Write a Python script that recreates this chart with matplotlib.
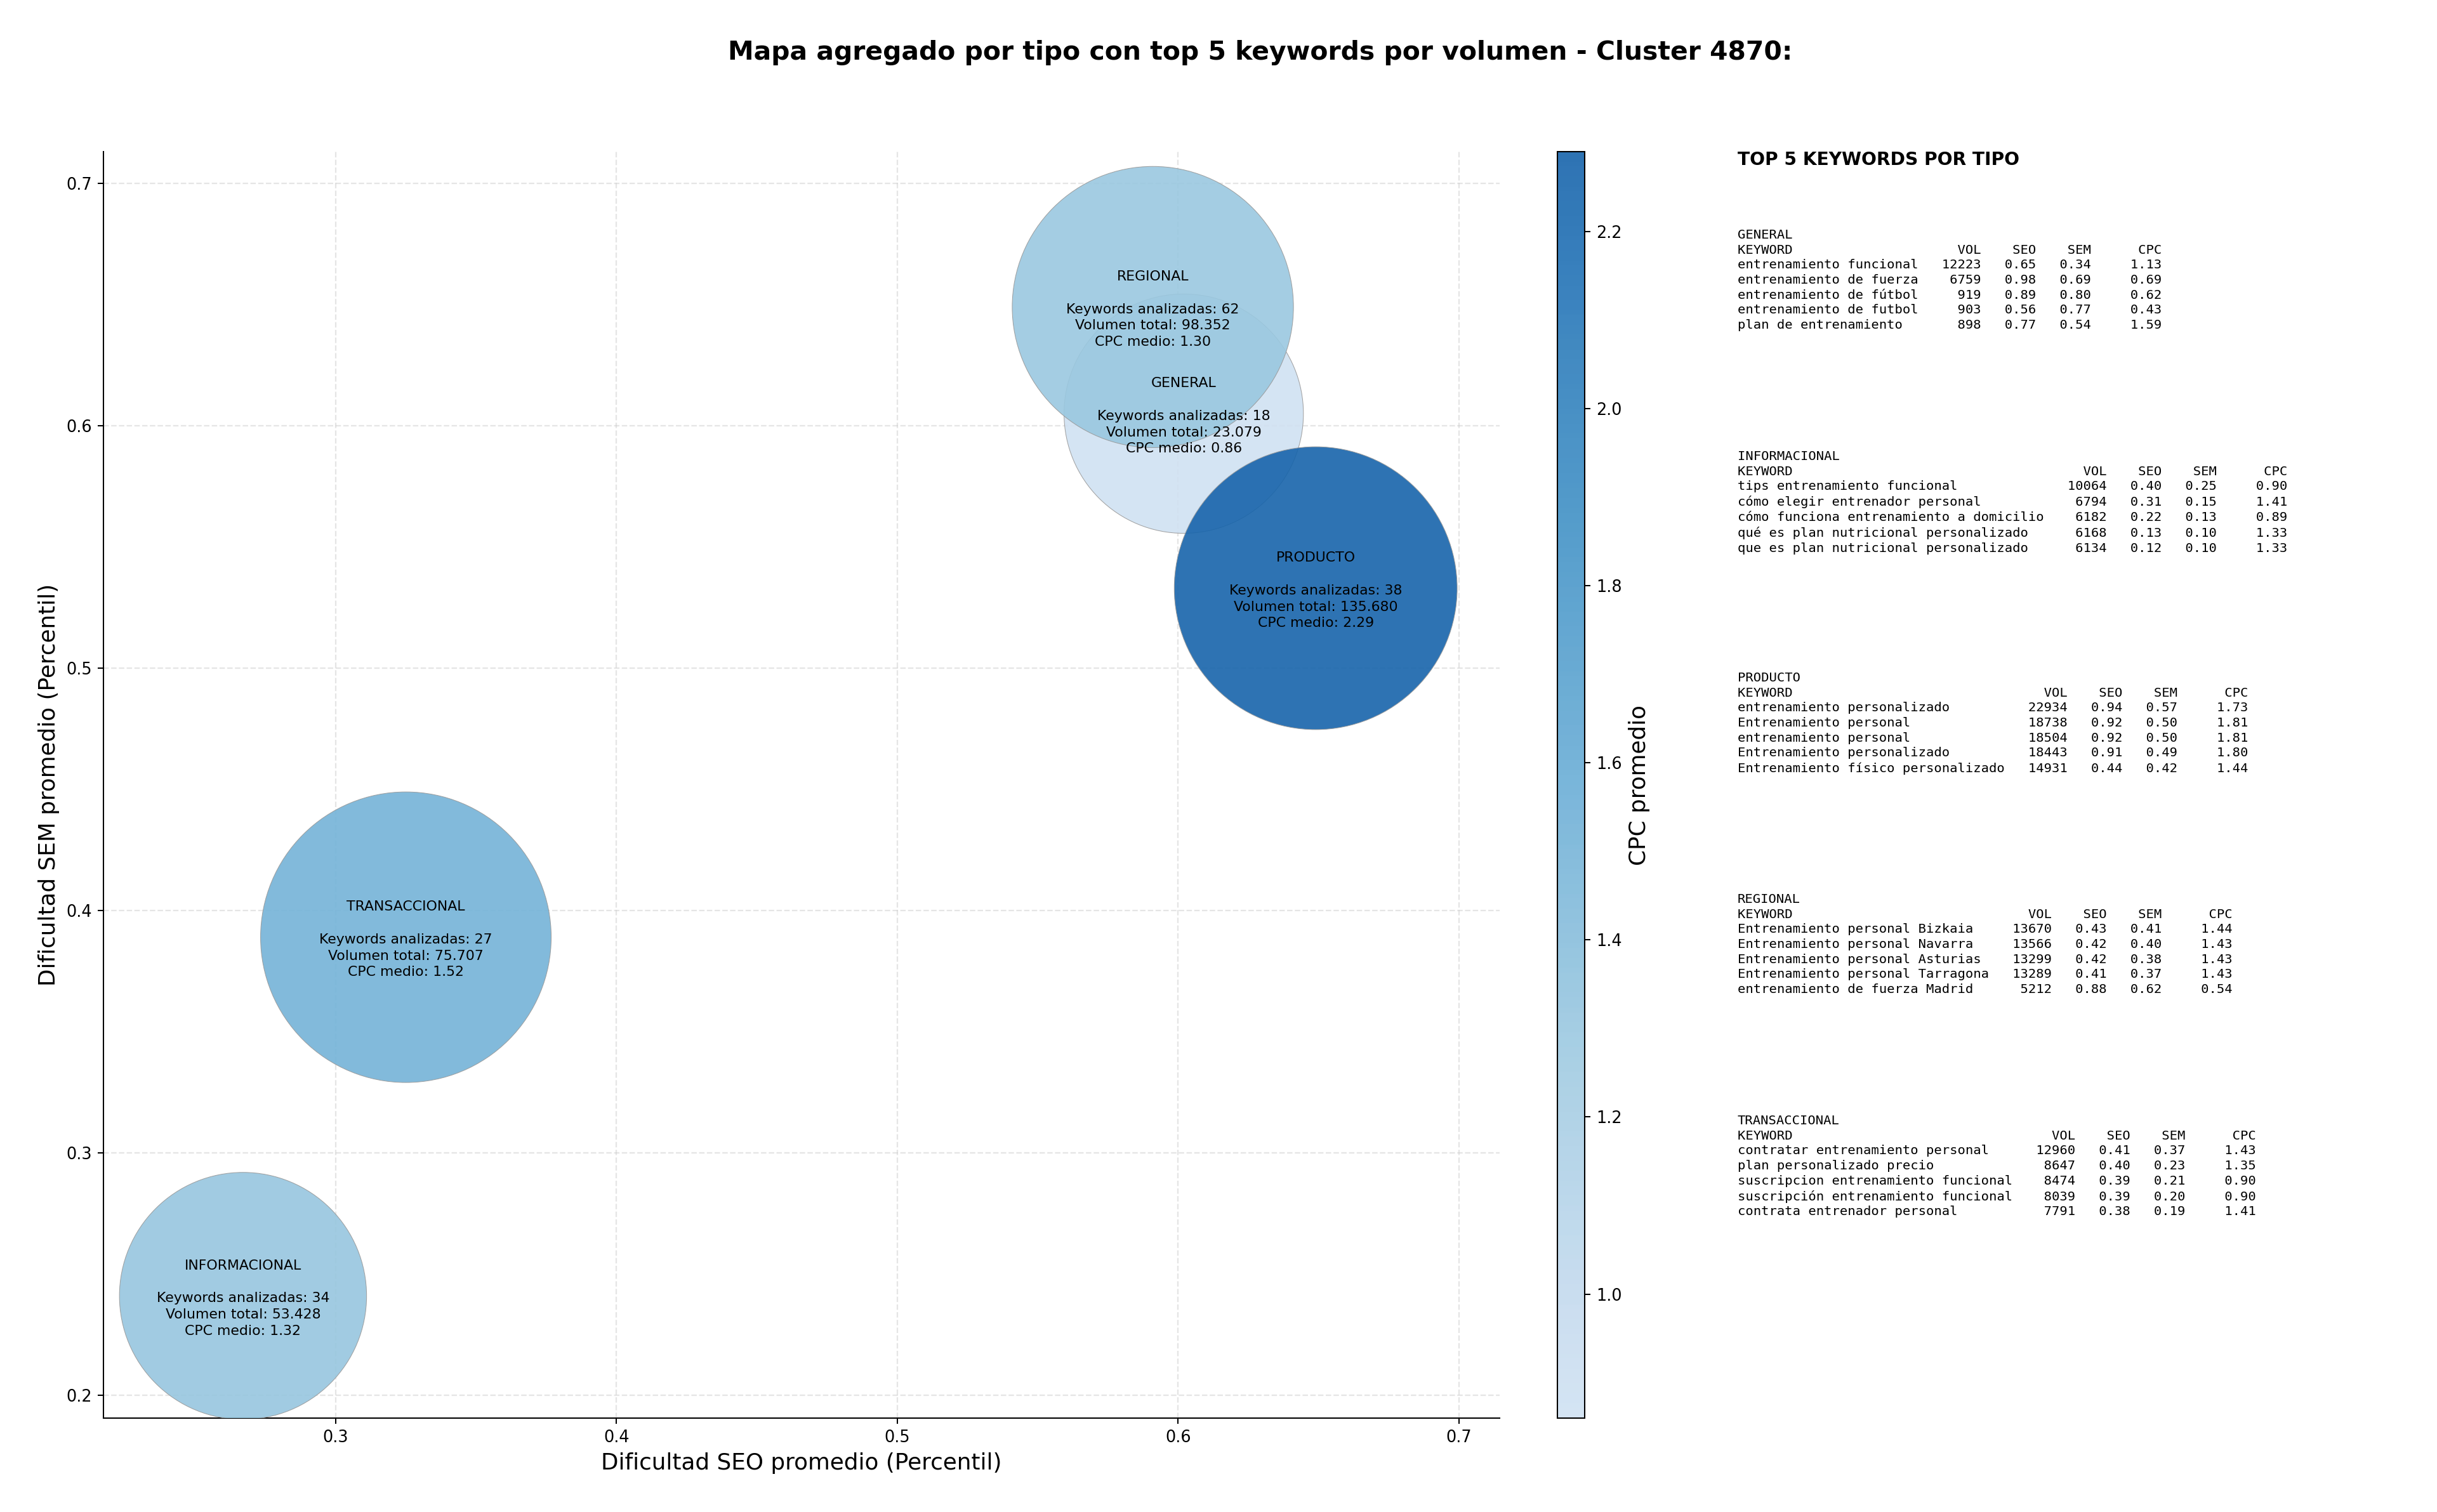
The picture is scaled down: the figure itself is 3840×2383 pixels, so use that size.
import numpy as np
import matplotlib
matplotlib.use("Agg")
import matplotlib.pyplot as plt
from matplotlib.colors import LinearSegmentedColormap, Normalize

# ---------------- data ----------------
tipos = ["GENERAL", "INFORMACIONAL", "PRODUCTO", "REGIONAL", "TRANSACCIONAL"]
seo_medio = [0.602, 0.267, 0.649, 0.591, 0.325]
sem_medio = [0.605, 0.241, 0.533, 0.649, 0.389]
n_keywords = [18, 34, 38, 62, 27]
volumen_total = [23079, 53428, 135680, 98352, 75707]
cpc_medio = [0.86, 1.32, 2.29, 1.30, 1.52]
bubble_size = [21780, 23220, 30420, 30070, 32110]

top_keywords = {
    "GENERAL": ["entrenamiento funcional", "entrenamiento de fuerza", "entrenamiento de fútbol",
                "entrenamiento de futbol", "plan de entrenamiento"],
    "INFORMACIONAL": ["tips entrenamiento funcional", "cómo elegir entrenador personal",
                      "cómo funciona entrenamiento a domicilio", "qué es plan nutricional personalizado",
                      "que es plan nutricional personalizado"],
    "PRODUCTO": ["entrenamiento personalizado", "Entrenamiento personal", "entrenamiento personal",
                 "Entrenamiento personalizado", "Entrenamiento físico personalizado"],
    "REGIONAL": ["Entrenamiento personal Bizkaia", "Entrenamiento personal Navarra",
                 "Entrenamiento personal Asturias", "Entrenamiento personal Tarragona",
                 "entrenamiento de fuerza Madrid"],
    "TRANSACCIONAL": ["contratar entrenamiento personal", "plan personalizado precio",
                      "suscripcion entrenamiento funcional", "suscripción entrenamiento funcional",
                      "contrata entrenador personal"],
}
top_vol = {
    "GENERAL": [12223, 6759, 919, 903, 898],
    "INFORMACIONAL": [10064, 6794, 6182, 6168, 6134],
    "PRODUCTO": [22934, 18738, 18504, 18443, 14931],
    "REGIONAL": [13670, 13566, 13299, 13289, 5212],
    "TRANSACCIONAL": [12960, 8647, 8474, 8039, 7791],
}
top_seo = {
    "GENERAL": [0.65, 0.98, 0.89, 0.56, 0.77],
    "INFORMACIONAL": [0.40, 0.31, 0.22, 0.13, 0.12],
    "PRODUCTO": [0.94, 0.92, 0.92, 0.91, 0.44],
    "REGIONAL": [0.43, 0.42, 0.42, 0.41, 0.88],
    "TRANSACCIONAL": [0.41, 0.40, 0.39, 0.39, 0.38],
}
top_sem = {
    "GENERAL": [0.34, 0.69, 0.80, 0.77, 0.54],
    "INFORMACIONAL": [0.25, 0.15, 0.13, 0.10, 0.10],
    "PRODUCTO": [0.57, 0.50, 0.50, 0.49, 0.42],
    "REGIONAL": [0.41, 0.40, 0.38, 0.37, 0.62],
    "TRANSACCIONAL": [0.37, 0.23, 0.21, 0.20, 0.19],
}
top_cpc = {
    "GENERAL": [1.13, 0.69, 0.62, 0.43, 1.59],
    "INFORMACIONAL": [0.90, 1.41, 0.89, 1.33, 1.33],
    "PRODUCTO": [1.73, 1.81, 1.81, 1.80, 1.44],
    "REGIONAL": [1.44, 1.43, 1.43, 1.43, 0.54],
    "TRANSACCIONAL": [1.43, 1.35, 0.90, 0.90, 1.41],
}

title = "Mapa agregado por tipo con top 5 keywords por volumen - Cluster 4870:"

# ---------------- figure ----------------
W, H = 3840, 2383
DPI = 184
fig = plt.figure(figsize=(W / DPI, H / DPI), dpi=DPI)
plt.rcParams["font.family"] = ["DejaVu Sans"]

ax = fig.add_axes([163 / W, 1 - 2235 / H, 2200 / W, 1996 / H])
cax = fig.add_axes([2454 / W, 1 - 2235 / H, 43 / W, 1996 / H])

cmap = LinearSegmentedColormap.from_list("blues_trunc", plt.cm.Blues(np.linspace(0.2, 0.8, 256)))
norm = Normalize(vmin=min(cpc_medio), vmax=max(cpc_medio))

sc = ax.scatter(seo_medio, sem_medio, s=bubble_size, c=cpc_medio, cmap=cmap, norm=norm,
                alpha=0.9, edgecolors="#999999", linewidths=0.4, zorder=3)

for t, x, y, n, v, c in zip(tipos, seo_medio, sem_medio, n_keywords, volumen_total, cpc_medio):
    vtxt = f"{v:,}".replace(",", ".")
    ax.annotate(f"{t}\n\nKeywords analizadas: {n}\nVolumen total: {vtxt}\nCPC medio: {c:.2f}",
                xy=(x, y), xytext=(0, -1.5), textcoords="offset points",
                ha="center", va="center", fontsize=8.6, linespacing=1.36, zorder=5)

ax.set_xlim(0.2173, 0.7145)
ax.set_ylim(0.1906, 0.7131)
ax.set_xticks([0.3, 0.4, 0.5, 0.6, 0.7])
ax.set_yticks([0.2, 0.3, 0.4, 0.5, 0.6, 0.7])
ax.tick_params(labelsize=10)
ax.grid(True, linestyle="--", color="#cccccc", alpha=0.5, linewidth=0.9)
ax.set_axisbelow(True)
ax.spines["top"].set_visible(False)
ax.spines["right"].set_visible(False)
ax.set_xlabel("Dificultad SEO promedio (Percentil)", fontsize=14)
ax.set_ylabel("Dificultad SEM promedio (Percentil)", fontsize=14)

cb = fig.colorbar(sc, cax=cax)
cb.set_label("CPC promedio", fontsize=14)
cb.ax.tick_params(labelsize=10)

fig.text(1986 / W, 1 - 83 / H, title, ha="center", va="center", fontsize=16, fontweight="bold")

# ---------------- side table ----------------
tx = 2738 / W
fig.text(tx, 1 - 238 / H, "TOP 5 KEYWORDS POR TIPO", ha="left", va="top", fontsize=11, fontweight="bold")
block_top = 361
block_step = 349
for i, t in enumerate(tipos):
    kws = top_keywords[t]
    L = max(len(k) for k in kws)
    lines = [t, f"{'KEYWORD':<{L}}{'VOL':>8}{'SEO':>7}{'SEM':>7}{'CPC':>9}"]
    for k, v, s1, s2, c in zip(kws, top_vol[t], top_seo[t], top_sem[t], top_cpc[t]):
        lines.append(f"{k:<{L}}{v:>8}{s1:>7.2f}{s2:>7.2f}{c:>9.2f}")
    fig.text(tx, 1 - (block_top + i * block_step) / H, "\n".join(lines), ha="left", va="top",
             fontsize=8, family="DejaVu Sans Mono", linespacing=1.31)

fig.savefig("out.png", dpi=DPI)
